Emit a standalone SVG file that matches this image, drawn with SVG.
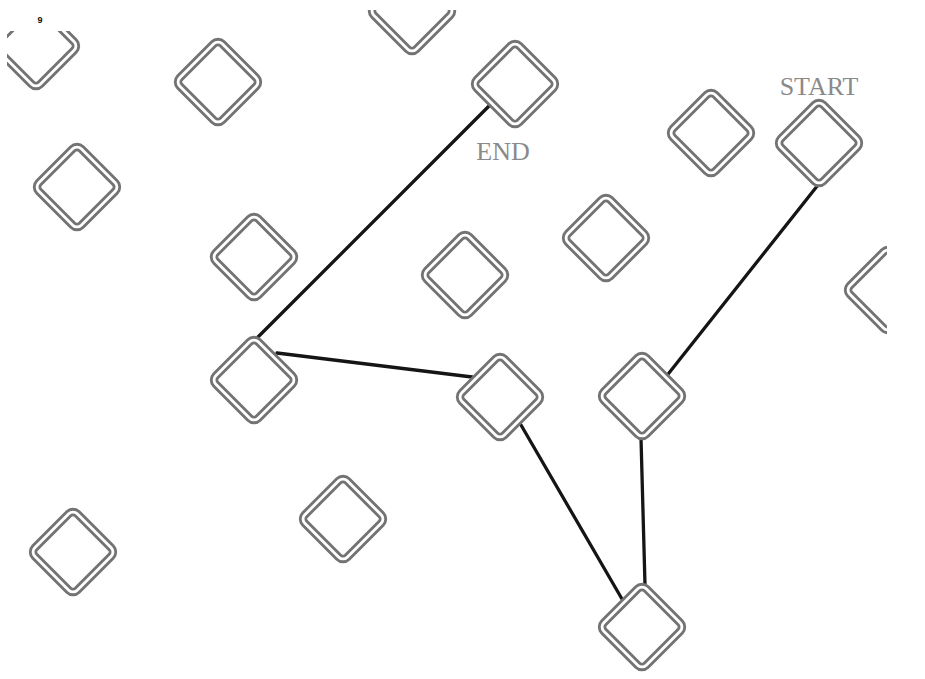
<svg xmlns="http://www.w3.org/2000/svg" xmlns:xlink="http://www.w3.org/1999/xlink" width="925" height="679" viewBox="0 0 925 679">
<style>
.o{fill:#fff;stroke:#737373;stroke-width:8.5}
.i{fill:none;stroke:#fff;stroke-width:2.8}
.e{stroke:#151515;stroke-width:3.3;stroke-linecap:round;fill:none}
.lbl{font-family:"Liberation Serif",serif;font-size:26px;fill:#8a8a8a;text-anchor:middle}
</style>
<defs>
<g id="dia">
<rect class="o" x="-30" y="-30" width="60" height="60" rx="6" transform="rotate(45)"/>
<rect class="i" x="-30" y="-30" width="60" height="60" rx="6" transform="rotate(45)"/>
</g>
<clipPath id="c1"><rect x="7" y="31" width="200" height="200"/></clipPath>
<clipPath id="c2"><rect x="300" y="10" width="200" height="200"/></clipPath>
<clipPath id="c3"><rect x="700" y="200" width="187" height="200"/></clipPath>
</defs>
<rect width="925" height="679" fill="#fff"/>
<g id="connectors">
<line class="e" x1="490" y1="105" x2="258" y2="337"/>
<line class="e" x1="277" y1="353" x2="472" y2="377"/>
<line class="e" x1="521" y1="425" x2="622" y2="599"/>
<line class="e" x1="641" y1="438" x2="645" y2="585"/>
<line class="e" x1="818" y1="185" x2="665" y2="378"/>
</g>
<g id="n1" clip-path="url(#c1)"><use xlink:href="#dia" href="#dia" transform="translate(36,46)"/></g>
<g id="n2" clip-path="url(#c2)"><use xlink:href="#dia" href="#dia" transform="translate(412,11)"/></g>
<g id="n3" clip-path="url(#c3)"><use xlink:href="#dia" href="#dia" transform="translate(888,290)"/></g>
<g id="end"><use xlink:href="#dia" href="#dia" transform="translate(515,84)"/><text class="lbl" x="503" y="160">END</text></g>
<g id="start"><use xlink:href="#dia" href="#dia" transform="translate(819,143)"/><text class="lbl" x="819" y="95">START</text></g>
<g id="n6"><use xlink:href="#dia" href="#dia" transform="translate(218,82)"/></g>
<g id="n7"><use xlink:href="#dia" href="#dia" transform="translate(77,187)"/></g>
<g id="n8"><use xlink:href="#dia" href="#dia" transform="translate(711,133)"/></g>
<g id="n9"><use xlink:href="#dia" href="#dia" transform="translate(254,257)"/></g>
<g id="n10"><use xlink:href="#dia" href="#dia" transform="translate(465,275)"/></g>
<g id="n11"><use xlink:href="#dia" href="#dia" transform="translate(606,238)"/></g>
<g id="n12"><use xlink:href="#dia" href="#dia" transform="translate(254,380)"/></g>
<g id="n13"><use xlink:href="#dia" href="#dia" transform="translate(500,397)"/></g>
<g id="n14"><use xlink:href="#dia" href="#dia" transform="translate(642,396)"/></g>
<g id="n15"><use xlink:href="#dia" href="#dia" transform="translate(343,519)"/></g>
<g id="n16"><use xlink:href="#dia" href="#dia" transform="translate(73,552)"/></g>
<g id="n17"><use xlink:href="#dia" href="#dia" transform="translate(642,627)"/></g>
<text x="40" y="23" font-family="Liberation Sans,sans-serif" font-size="9" font-weight="bold" fill="#111" text-anchor="middle">9</text>
</svg>
